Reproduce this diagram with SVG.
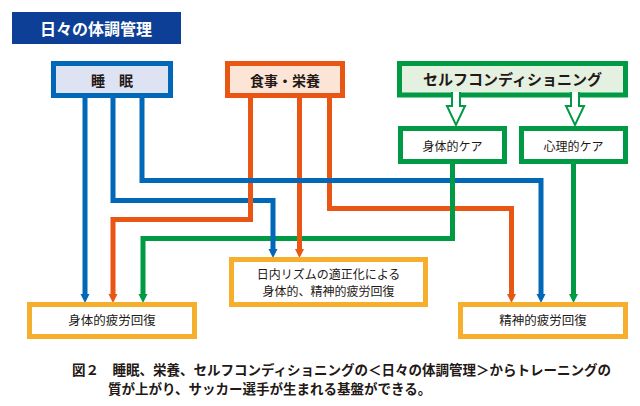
<svg xmlns="http://www.w3.org/2000/svg" width="640" height="406" viewBox="0 0 640 406">
<style>
text{font-family:"Noto Sans CJK JP","Noto Sans",sans-serif;fill:#231815;text-anchor:middle}
.b{font-weight:bold}
.ln{fill:none;stroke-width:5;stroke-linejoin:miter;stroke-linecap:butt}
.blue{stroke:#0068b7}
.orange{stroke:#e95513}
.green{stroke:#009a44}
.box{stroke-width:5}
.yb{fill:#fff;stroke:#f6ae2d;stroke-width:5}
</style>
<defs>
<marker id="ab" viewBox="0 0 10 10" refX="0" refY="5" markerWidth="9" markerHeight="10" markerUnits="userSpaceOnUse" orient="auto"><path d="M0,0L10,5L0,10z" fill="#0068b7"/></marker>
<marker id="ao" viewBox="0 0 10 10" refX="0" refY="5" markerWidth="9" markerHeight="10" markerUnits="userSpaceOnUse" orient="auto"><path d="M0,0L10,5L0,10z" fill="#e95513"/></marker>
<marker id="ag" viewBox="0 0 10 10" refX="0" refY="5" markerWidth="9" markerHeight="10" markerUnits="userSpaceOnUse" orient="auto"><path d="M0,0L10,5L0,10z" fill="#009a44"/></marker>
</defs>

<g id="title">
<rect x="12" y="12" width="169" height="32" fill="#0d3f96"/>
<text x="96" y="34.5" class="b" font-size="16" style="fill:#fff">日々の体調管理</text>
</g>

<g id="connectors">
<path class="ln green" d="M452.5,162V238.5H143V294" marker-end="url(#ag)"/>
<path class="ln blue" d="M113,96V200.5H273V249" marker-end="url(#ab)"/>
<path class="ln orange" d="M250.5,96V219.5H113V294" marker-end="url(#ao)"/>
<path class="ln orange" d="M299.5,96V249" marker-end="url(#ao)"/>
<path class="ln orange" d="M329.5,96V208.5H511.5V294" marker-end="url(#ao)"/>
<path class="ln blue" d="M142,96V180.5H541V294" marker-end="url(#ab)"/>
<path class="ln green" d="M452.5,162V241"/>
<path class="ln blue" d="M85,96V294" marker-end="url(#ab)"/>
<path class="ln green" d="M573.5,162V294" marker-end="url(#ag)"/>
</g>

<g id="sleep">
<rect x="53.5" y="63.5" width="117" height="32" class="box" fill="#dde3f3" stroke="#0068b7"/>
<text x="112" y="86" class="b" font-size="14">睡　眠</text>
</g>
<g id="food">
<rect x="227.5" y="63.5" width="115" height="32" class="box" fill="#fce4d6" stroke="#e95513"/>
<text x="285" y="86" class="b" font-size="14">食事・栄養</text>
</g>
<g id="selfcond">
<rect x="399.5" y="63.5" width="226" height="31.5" class="box" fill="#e4f0e0" stroke="#009a44"/>
<text x="512.5" y="85" class="b" font-size="15">セルフコンディショニング</text>
</g>
<g id="hollow-arrows">
<path d="M452,92V106H447L456,125L465,106H460V92zM571,92V106H566L575,125L584,106H579V92z" fill="#fff"/>
<path d="M452,92V106H447L456,125L465,106H460V92M571,92V106H566L575,125L584,106H579V92" fill="none" stroke="#009a44" stroke-width="2"/>
</g>
<g id="bodycare">
<rect x="400.5" y="128.5" width="104" height="33" class="box" fill="#fff" stroke="#009a44"/>
<text x="452.5" y="151" font-size="12">身体的ケア</text>
</g>
<g id="mindcare">
<rect x="521.5" y="128.5" width="104" height="33" class="box" fill="#fff" stroke="#009a44"/>
<text x="573.5" y="151" font-size="12">心理的ケア</text>
</g>
<g id="rhythm">
<rect x="231.5" y="259.5" width="194" height="45" class="yb"/>
<text x="328.5" y="278.5" font-size="12">日内リズムの適正化による</text>
<text x="328.5" y="296" font-size="12">身体的、精神的疲労回復</text>
</g>
<g id="bodyrecovery">
<rect x="29.5" y="304.5" width="165" height="32" class="yb"/>
<text x="112" y="324.5" font-size="12.5">身体的疲労回復</text>
</g>
<g id="mindrecovery">
<rect x="460.5" y="304.5" width="165" height="32" class="yb"/>
<text x="543" y="324.5" font-size="12.5">精神的疲労回復</text>
</g>

<g id="caption">
<text x="72" y="375" class="b" font-size="13.5" style="text-anchor:start">図２　睡眠、栄養、セルフコンディショニングの＜日々の体調管理＞からトレーニングの</text>
<text x="108" y="394" class="b" font-size="13.5" style="text-anchor:start">質が上がり、サッカー選手が生まれる基盤ができる。</text>
</g>
</svg>
